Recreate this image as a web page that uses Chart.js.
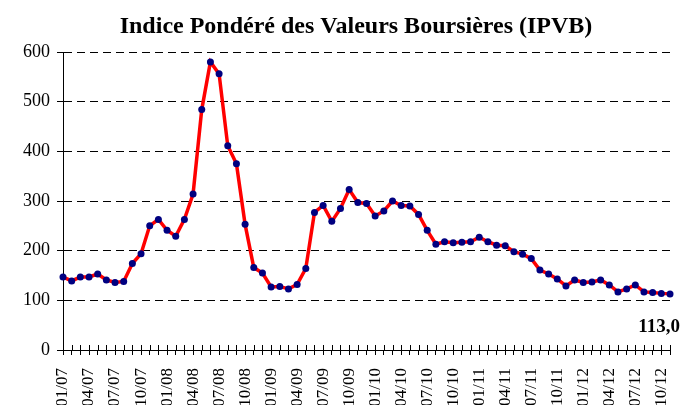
<!DOCTYPE html>
<html>
<head>
<meta charset="utf-8">
<script src="https://cdn.jsdelivr.net/npm/chart.js@4"></script>
<style>
  html, body { margin: 0; padding: 0; background: #fff; }
  #wrap { width: 680px; height: 405px; }
</style>
</head>
<body>
<div id="wrap"><canvas id="chart" width="680" height="405"></canvas></div>
<script>
'use strict';

// months 01/07 .. 11/12
const years = ['07', '08', '09', '10', '11', '12'];
const months = ['01','02','03','04','05','06','07','08','09','10','11','12'];
const labels = [];
years.forEach(y => months.forEach(m => labels.push(m + '/' + y)));
labels.pop(); // last point is 11/12

const ipvb = [147,139,147,147,153,141,136,138,174,194,
              250,263,241,229,263,314,484,580,556,411,
              375,253,166,155,127,128,123,132,164,277,
              291,259,285,323,297,295,270,280,300,291,
              290,273,241,213,218,216,217,218,227,218,
              211,210,198,193,184,161,153,143,129,141,
              136,137,141,131,117,123,131,117,116,114,
              113];

const yTicks = [0, 100, 200, 300, 400, 500, 600];
const title = 'Indice Pondéré des Valeurs Boursières (IPVB)';
const lastLabel = '113,0';

const serif = '"Liberation Serif", "Times New Roman", serif';

// title, small tick marks crossing above the x axis, last-value label
const extras = {
  id: 'extras',
  afterDraw(chart) {
    const { ctx, chartArea, scales } = chart;
    const x = scales.x;
    ctx.save();
    ctx.fillStyle = '#000';
    ctx.font = 'bold 24px ' + serif;
    ctx.textAlign = 'center';
    ctx.textBaseline = 'alphabetic';
    ctx.fillText(title, 356, 33);

    ctx.strokeStyle = '#000';
    ctx.lineWidth = 1;
    for (let i = 0; i < labels.length; i++) {
      const px = Math.round(x.getPixelForTick(i)) + 0.5;
      ctx.beginPath();
      ctx.moveTo(px, chartArea.bottom - 5);
      ctx.lineTo(px, chartArea.bottom);
      ctx.stroke();
    }
    const meta = chart.getDatasetMeta(0);
    const last = meta.data[meta.data.length - 1];
    ctx.font = 'bold 19px ' + serif;
    ctx.textAlign = 'right';
    ctx.fillText(lastLabel, 680, last.y + 38);
    ctx.restore();
  }
};

new Chart(document.getElementById('chart'), {
  type: 'line',
  data: {
    labels,
    datasets: [{
      data: ipvb,
      borderColor: '#ff0000',
      borderWidth: 3.5,
      pointBackgroundColor: '#000080',
      pointBorderColor: '#000080',
      pointRadius: 3.5,
      pointBorderWidth: 0,
      tension: 0
    }]
  },
  options: {
    responsive: false,
    animation: false,
    layout: { padding: { left: 0, right: 10, top: 52, bottom: 0 } },
    plugins: {
      legend: { display: false },
      tooltip: { enabled: false },
      title: { display: false }
    },
    scales: {
      x: {
        offset: false,
        grid: {
          display: true,
          drawOnChartArea: false,
          color: '#000',
          tickLength: 5
        },
        border: { display: true, color: '#000', width: 1 },
        ticks: {
          autoSkip: false,
          maxRotation: 90,
          minRotation: 90,
          padding: 13,
          color: '#000',
          font: { family: serif, size: 17 },
          callback: (v, i) => (i % 3 === 0 ? labels[i] : '')
        },
        afterFit: s => { s.height = 55; s.paddingLeft = 0; s.paddingRight = 0; }
      },
      y: {
        min: 0,
        max: 600,
        afterBuildTicks: s => { s.ticks = yTicks.map(v => ({ value: v })); },
        grid: {
          color: '#000',
          lineWidth: 1,
          tickLength: 6
        },
        border: { display: true, color: '#000', width: 1, dash: [8, 5] },
        ticks: {
          color: '#000',
          padding: 7,
          font: { family: serif, size: 18 }
        },
        afterFit: s => { s.width = 63; }
      }
    }
  },
  plugins: [extras]
});
</script>
</body>
</html>
